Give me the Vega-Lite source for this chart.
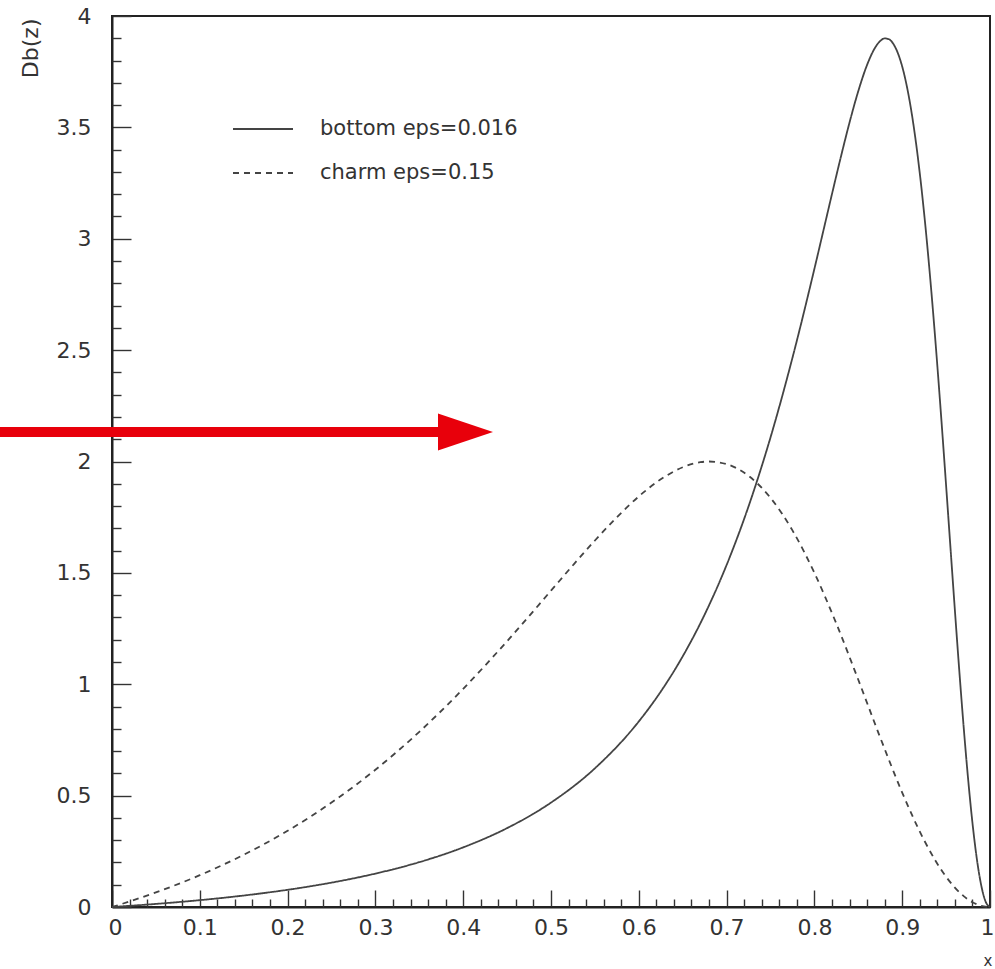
{
  "$schema": "https://vega.github.io/schema/vega-lite/v6.json",
  "width": 878,
  "height": 891,
  "autosize": {"type": "none"},
  "padding": {"left": 112, "top": 16, "right": 5, "bottom": 62},
  "background": "white",
  "config": {
    "view": {"stroke": "#222", "strokeWidth": 2},
    "font": "DejaVu Sans"
  },
  "resolve": {"axis": {"x": "independent", "y": "independent"}},
  "datasets": {
    "curves": [
      {"x": 0, "y": 0, "series": "bottom eps=0.016"},
      {"x": 0.01, "y": 0.0026, "series": "bottom eps=0.016"},
      {"x": 0.05, "y": 0.0138, "series": "bottom eps=0.016"},
      {"x": 0.1, "y": 0.0307, "series": "bottom eps=0.016"},
      {"x": 0.15, "y": 0.0515, "series": "bottom eps=0.016"},
      {"x": 0.2, "y": 0.0772, "series": "bottom eps=0.016"},
      {"x": 0.25, "y": 0.1094, "series": "bottom eps=0.016"},
      {"x": 0.3, "y": 0.1499, "series": "bottom eps=0.016"},
      {"x": 0.35, "y": 0.2014, "series": "bottom eps=0.016"},
      {"x": 0.4, "y": 0.2677, "series": "bottom eps=0.016"},
      {"x": 0.45, "y": 0.3542, "series": "bottom eps=0.016"},
      {"x": 0.5, "y": 0.4687, "series": "bottom eps=0.016"},
      {"x": 0.55, "y": 0.6226, "series": "bottom eps=0.016"},
      {"x": 0.6, "y": 0.833, "series": "bottom eps=0.016"},
      {"x": 0.625, "y": 0.9669, "series": "bottom eps=0.016"},
      {"x": 0.65, "y": 1.1252, "series": "bottom eps=0.016"},
      {"x": 0.675, "y": 1.3129, "series": "bottom eps=0.016"},
      {"x": 0.7, "y": 1.5354, "series": "bottom eps=0.016"},
      {"x": 0.725, "y": 1.7987, "series": "bottom eps=0.016"},
      {"x": 0.75, "y": 2.108, "series": "bottom eps=0.016"},
      {"x": 0.775, "y": 2.4654, "series": "bottom eps=0.016"},
      {"x": 0.8, "y": 2.865, "series": "bottom eps=0.016"},
      {"x": 0.81, "y": 3.0324, "series": "bottom eps=0.016"},
      {"x": 0.82, "y": 3.2004, "series": "bottom eps=0.016"},
      {"x": 0.83, "y": 3.3652, "series": "bottom eps=0.016"},
      {"x": 0.84, "y": 3.5217, "series": "bottom eps=0.016"},
      {"x": 0.85, "y": 3.663, "series": "bottom eps=0.016"},
      {"x": 0.86, "y": 3.7805, "series": "bottom eps=0.016"},
      {"x": 0.87, "y": 3.8636, "series": "bottom eps=0.016"},
      {"x": 0.875, "y": 3.888, "series": "bottom eps=0.016"},
      {"x": 0.88, "y": 3.8995, "series": "bottom eps=0.016"},
      {"x": 0.885, "y": 3.8955, "series": "bottom eps=0.016"},
      {"x": 0.89, "y": 3.8743, "series": "bottom eps=0.016"},
      {"x": 0.895, "y": 3.834, "series": "bottom eps=0.016"},
      {"x": 0.9, "y": 3.7732, "series": "bottom eps=0.016"},
      {"x": 0.905, "y": 3.69, "series": "bottom eps=0.016"},
      {"x": 0.91, "y": 3.5831, "series": "bottom eps=0.016"},
      {"x": 0.915, "y": 3.4514, "series": "bottom eps=0.016"},
      {"x": 0.92, "y": 3.2948, "series": "bottom eps=0.016"},
      {"x": 0.925, "y": 3.1131, "series": "bottom eps=0.016"},
      {"x": 0.93, "y": 2.9071, "series": "bottom eps=0.016"},
      {"x": 0.935, "y": 2.6789, "series": "bottom eps=0.016"},
      {"x": 0.94, "y": 2.431, "series": "bottom eps=0.016"},
      {"x": 0.945, "y": 2.1672, "series": "bottom eps=0.016"},
      {"x": 0.95, "y": 1.8922, "series": "bottom eps=0.016"},
      {"x": 0.955, "y": 1.6119, "series": "bottom eps=0.016"},
      {"x": 0.96, "y": 1.3329, "series": "bottom eps=0.016"},
      {"x": 0.965, "y": 1.0624, "series": "bottom eps=0.016"},
      {"x": 0.97, "y": 0.8082, "series": "bottom eps=0.016"},
      {"x": 0.975, "y": 0.5778, "series": "bottom eps=0.016"},
      {"x": 0.98, "y": 0.3784, "series": "bottom eps=0.016"},
      {"x": 0.985, "y": 0.2165, "series": "bottom eps=0.016"},
      {"x": 0.99, "y": 0.0973, "series": "bottom eps=0.016"},
      {"x": 0.995, "y": 0.0244, "series": "bottom eps=0.016"},
      {"x": 1, "y": 0, "series": "bottom eps=0.016"},
      {"x": 0, "y": 0, "series": "charm eps=0.15"},
      {"x": 0.01, "y": 0.0122, "series": "charm eps=0.15"},
      {"x": 0.05, "y": 0.0654, "series": "charm eps=0.15"},
      {"x": 0.1, "y": 0.1428, "series": "charm eps=0.15"},
      {"x": 0.15, "y": 0.2343, "series": "charm eps=0.15"},
      {"x": 0.2, "y": 0.3422, "series": "charm eps=0.15"},
      {"x": 0.25, "y": 0.4688, "series": "charm eps=0.15"},
      {"x": 0.3, "y": 0.6163, "series": "charm eps=0.15"},
      {"x": 0.35, "y": 0.7865, "series": "charm eps=0.15"},
      {"x": 0.4, "y": 0.9796, "series": "charm eps=0.15"},
      {"x": 0.45, "y": 1.1932, "series": "charm eps=0.15"},
      {"x": 0.5, "y": 1.4201, "series": "charm eps=0.15"},
      {"x": 0.525, "y": 1.5343, "series": "charm eps=0.15"},
      {"x": 0.55, "y": 1.6454, "series": "charm eps=0.15"},
      {"x": 0.575, "y": 1.7499, "series": "charm eps=0.15"},
      {"x": 0.6, "y": 1.8432, "series": "charm eps=0.15"},
      {"x": 0.625, "y": 1.92, "series": "charm eps=0.15"},
      {"x": 0.65, "y": 1.9742, "series": "charm eps=0.15"},
      {"x": 0.67, "y": 1.9968, "series": "charm eps=0.15"},
      {"x": 0.68, "y": 2.0, "series": "charm eps=0.15"},
      {"x": 0.7, "y": 1.9882, "series": "charm eps=0.15"},
      {"x": 0.725, "y": 1.9354, "series": "charm eps=0.15"},
      {"x": 0.75, "y": 1.8367, "series": "charm eps=0.15"},
      {"x": 0.775, "y": 1.6907, "series": "charm eps=0.15"},
      {"x": 0.8, "y": 1.5, "series": "charm eps=0.15"},
      {"x": 0.825, "y": 1.2722, "series": "charm eps=0.15"},
      {"x": 0.85, "y": 1.02, "series": "charm eps=0.15"},
      {"x": 0.875, "y": 0.7605, "series": "charm eps=0.15"},
      {"x": 0.9, "y": 0.5137, "series": "charm eps=0.15"},
      {"x": 0.925, "y": 0.2995, "series": "charm eps=0.15"},
      {"x": 0.95, "y": 0.1356, "series": "charm eps=0.15"},
      {"x": 0.97, "y": 0.0489, "series": "charm eps=0.15"},
      {"x": 0.98, "y": 0.0217, "series": "charm eps=0.15"},
      {"x": 0.99, "y": 0.0054, "series": "charm eps=0.15"},
      {"x": 1, "y": 0, "series": "charm eps=0.15"}
    ],
    "arrow": [
      {"x": -0.1276, "x2": 0.3736, "y": 2.132, "xh": 0.4026}
    ]
  },
  "layer": [
    {
      "data": {"name": "curves"},
      "mark": {"type": "line", "interpolate": "monotone", "color": "#444", "strokeWidth": 1.8},
      "encoding": {
        "x": {
          "field": "x", "type": "quantitative",
          "scale": {"domain": [0, 1], "nice": false, "zero": false},
          "axis": {
            "orient": "bottom",
            "values": [0,0.1,0.2,0.3,0.4,0.5,0.6,0.7,0.8,0.9,1],
            "format": "~g",
            "tickSize": -17,
            "labelFlush": true,
            "labelFlushOffset": 4,
            "labelOverlap": false,
            "labelPadding": 27,
            "labelFontSize": 22,
            "labelFont": "DejaVu Sans",
            "labelColor": "#333",
            "domainColor": "#222",
            "domainWidth": 2,
            "tickColor": "#333",
            "tickWidth": 1.4,
            "grid": false,
            "title": "x",
            "titleFont": "DejaVu Sans",
            "titleFontSize": 15,
            "titleFontWeight": "normal",
            "titleColor": "#333",
            "titleAnchor": "end",
            "titleAlign": "right",
            "titleBaseline": "alphabetic",
            "titleX": 880,
            "titleY": 58
          }
        },
        "y": {
          "field": "y", "type": "quantitative",
          "scale": {"domain": [0, 4], "nice": false, "zero": false},
          "axis": {
            "orient": "left",
            "values": [0,0.5,1,1.5,2,2.5,3,3.5,4],
            "format": "~g",
            "tickSize": -19,
            "labelFlush": false,
            "labelOverlap": false,
            "labelPadding": 40,
            "labelFontSize": 22,
            "labelFont": "DejaVu Sans",
            "labelColor": "#333",
            "domainColor": "#222",
            "domainWidth": 2,
            "tickColor": "#333",
            "tickWidth": 1.4,
            "grid": false,
            "title": "Db(z)",
            "titleFont": "DejaVu Sans",
            "titleFontSize": 22,
            "titleFontWeight": "normal",
            "titleColor": "#333",
            "titleAngle": -90,
            "titleAnchor": "end",
            "titleAlign": "right",
            "titleBaseline": "bottom",
            "titleX": -70,
            "titleY": 2
          }
        },
        "strokeDash": {
          "field": "series", "type": "nominal",
          "scale": {"domain": ["bottom eps=0.016", "charm eps=0.15"], "range": [[1, 0], [6, 5]]},
          "legend": {
            "title": null,
            "orient": "none",
            "legendX": 120,
            "legendY": 82,
            "symbolType": "stroke",
            "symbolSize": 3600,
            "symbolStrokeColor": "#444",
            "symbolStrokeWidth": 1.8,
            "rowPadding": 3,
            "labelOffset": 26,
            "labelLimit": 400,
            "labelFontSize": 21,
            "labelFont": "DejaVu Sans",
            "labelColor": "#333"
          }
        }
      }
    },
    {
      "data": {"name": "arrow"},
      "mark": {"type": "rule", "color": "#e8000b", "strokeWidth": 10, "strokeCap": "butt"},
      "encoding": {
        "x": {
          "field": "x", "type": "quantitative",
          "scale": {"domain": [0, 1], "nice": false, "zero": false},
          "axis": {
            "orient": "bottom",
            "values": [0.02,0.04,0.06,0.08,0.12,0.14,0.16,0.18,0.22,0.24,0.26,0.28,0.32,0.34,0.36,0.38,0.42,0.44,0.46,0.48,0.52,0.54,0.56,0.58,0.62,0.64,0.66,0.68,0.72,0.74,0.76,0.78,0.82,0.84,0.86,0.88,0.92,0.94,0.96,0.98],
            "tickSize": -8,
            "tickColor": "#333",
            "tickWidth": 1.4,
            "labels": false,
            "domain": false,
            "grid": false,
            "title": null
          }
        },
        "x2": {"field": "x2"},
        "y": {
          "field": "y", "type": "quantitative",
          "scale": {"domain": [0, 4], "nice": false, "zero": false},
          "axis": {
            "orient": "left",
            "values": [0.1,0.2,0.3,0.4,0.6,0.7,0.8,0.9,1.1,1.2,1.3,1.4,1.6,1.7,1.8,1.9,2.1,2.2,2.3,2.4,2.6,2.7,2.8,2.9,3.1,3.2,3.3,3.4,3.6,3.7,3.8,3.9],
            "tickSize": -9,
            "tickColor": "#333",
            "tickWidth": 1.4,
            "labels": false,
            "domain": false,
            "grid": false,
            "title": null
          }
        }
      }
    },
    {
      "data": {"name": "arrow"},
      "mark": {"type": "point", "shape": "M -1 -0.673 L 1 0 L -1 0.673 Z", "filled": true, "color": "#e8000b", "opacity": 1, "size": 3025},
      "encoding": {
        "x": {"field": "xh", "type": "quantitative", "scale": {"domain": [0, 1], "nice": false, "zero": false}, "axis": null},
        "y": {"field": "y", "type": "quantitative", "scale": {"domain": [0, 4], "nice": false, "zero": false}, "axis": null}
      }
    }
  ]
}
